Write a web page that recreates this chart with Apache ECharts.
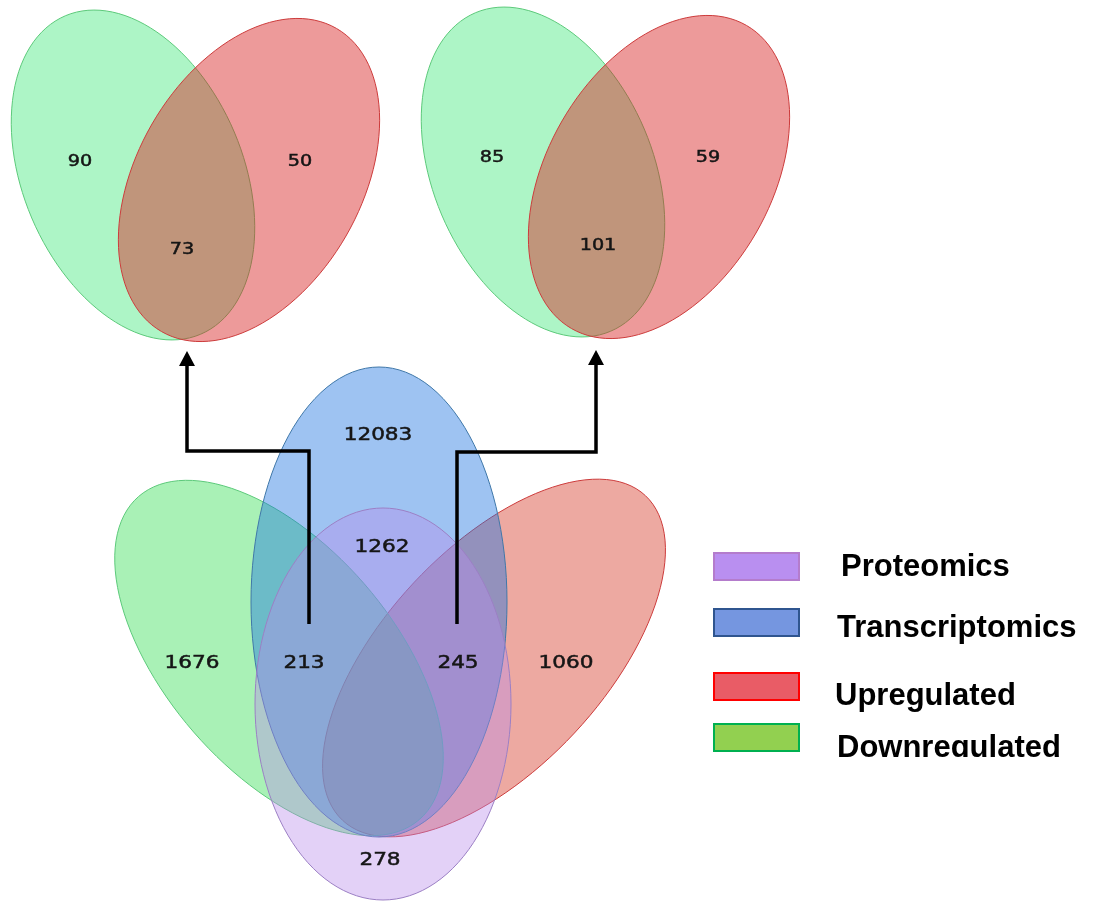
<!DOCTYPE html>
<html>
<head>
<meta charset="utf-8">
<title>Venn diagrams</title>
<script src="https://cdn.jsdelivr.net/npm/echarts@6.0.0/dist/echarts.min.js"></script>
<style>
  html, body { margin: 0; padding: 0; background: #fff; }
  #chart { width: 1095px; height: 903px; }
</style>
</head>
<body>
<div id="chart"></div>
<script>
// ---- data ----
const setNames = ['Proteomics', 'Transcriptomics', 'Upregulated', 'Downregulated']
// top left venn: down only, both, up only
const leftPairCounts = [90, 73, 50]
// top right venn: down only, both, up only
const rightPairCounts = [85, 101, 59]
// bottom venn regions
const quadCounts = [12083, 1262, 1676, 213, 245, 1060, 278]

// ---- layout (pixel space of the hidden axes) ----
// ellipse: [cx, cy, semiMinor, semiMajor, tilt deg (+ = top leans left)]
const downPairEllipses = [[133, 175, 110, 173, 23], [543, 172, 110, 173, 23]]
const upPairEllipses = [[249, 180, 112, 175, -30], [659, 177, 112, 175, -30]]
const downQuadEllipse = [[279, 658, 113, 214, 41]]
const upQuadEllipse = [[494, 658, 110, 222, -43]]
const transEllipse = [[379, 602, 128, 235, 0]]
const protEllipse = [[383, 704, 128, 196, 0]]

const leftPairPos = [[80, 162], [182, 250], [300, 162]]
const rightPairPos = [[492, 158], [598, 246], [708, 158]]
const quadPos = [[378, 435], [382, 547], [192, 663], [304, 663], [458, 663], [566, 663], [380, 860]]

const arrowPaths = [
  [[309, 624], [309, 451], [187, 451], [187, 366]],
  [[457, 624], [457, 452], [596, 452], [596, 365]]
]

const strokes = {
  Downregulated: '#5cc97a',
  Upregulated: '#cc3b3b',
  Transcriptomics: '#3f77a8',
  Proteomics: '#9b7fc4'
}
const legendColors = {
  Proteomics: ['#b98ff0', '#b47ccc'],
  Transcriptomics: ['#7596e0', '#2f558f'],
  Upregulated: ['#e95c66', '#ff0000'],
  Downregulated: ['#92d050', '#00b050']
}
const legendTops = [550, 601.5, 661.5, 711]
const legendTextLeft = [37, 33, 31, 33]
// text sits a little lower than its swatch: an empty first line pushes it down
const legendLead = [2, 11, 19, 22]

let chart = echarts.init(document.getElementById('chart'))

function ellipseSeries (name, list, fill) {
  return {
    name: name,
    type: 'custom',
    coordinateSystem: 'cartesian2d',
    silent: true,
    data: list,
    renderItem: function (params, api) {
      let cx = api.value(0)
      let cy = api.value(1)
      let b = api.value(2)
      let a = api.value(3)
      let t = api.value(4) * Math.PI / 180
      let pts = []
      for (let k = 0; k < 120; k++) {
        let u = k / 120 * 2 * Math.PI
        let x0 = b * Math.cos(u)
        let y0 = a * Math.sin(u)
        pts.push(api.coord([cx + x0 * Math.cos(t) + y0 * Math.sin(t), cy - x0 * Math.sin(t) + y0 * Math.cos(t)]))
      }
      return {
        type: 'polygon',
        shape: { points: pts },
        style: { fill: fill, stroke: strokes[name], lineWidth: 1 }
      }
    }
  }
}

// count labels
let labelData = []
leftPairCounts.forEach((v, i) => labelData.push([leftPairPos[i][0], leftPairPos[i][1], v, 16]))
rightPairCounts.forEach((v, i) => labelData.push([rightPairPos[i][0], rightPairPos[i][1], v, 16]))
quadCounts.forEach((v, i) => labelData.push([quadPos[i][0], quadPos[i][1], v, 18]))

const option = {
  animation: false,
  grid: { left: 0, right: 0, top: 0, bottom: 0 },
  xAxis: { type: 'value', min: 0, max: 1095, show: false },
  yAxis: { type: 'value', min: 0, max: 903, inverse: true, show: false },
  legend: setNames.map((name, i) => ({
    data: [{ name: name, icon: 'rect', itemStyle: { color: legendColors[name][0], borderColor: legendColors[name][1], borderWidth: 2 } }],
    left: 713,
    top: legendTops[i],
    padding: 0,
    itemWidth: 85,
    itemHeight: 27,
    selectedMode: false,
    formatter: n => '\n' + n,
    textStyle: {
      fontFamily: 'Liberation Sans, Arial, sans-serif',
      fontWeight: 'bold',
      fontSize: 31,
      lineHeight: legendLead[i],
      color: '#000',
      padding: [0, 0, 0, legendTextLeft[i]]
    }
  })),
  graphic: [
    // the source legend image is cut just under the last line
    { type: 'rect', shape: { x: 825, y: 757, width: 270, height: 30 }, style: { fill: '#fff' }, z: 100 }
  ],
  series: [
    ellipseSeries('Downregulated', downPairEllipses, 'rgba(60,230,120,0.42)'),
    ellipseSeries('Upregulated', upPairEllipses, 'rgba(215,30,30,0.45)'),
    ellipseSeries('Upregulated', upQuadEllipse, 'rgba(212,50,30,0.42)'),
    ellipseSeries('Downregulated', downQuadEllipse, 'rgba(50,222,80,0.42)'),
    ellipseSeries('Transcriptomics', transEllipse, 'rgba(30,115,225,0.43)'),
    ellipseSeries('Proteomics', protEllipse, 'rgba(185,140,235,0.40)'),
    {
      name: 'counts',
      type: 'custom',
      coordinateSystem: 'cartesian2d',
      silent: true,
      data: labelData,
      renderItem: function (params, api) {
        let p = api.coord([api.value(0), api.value(1)])
        return {
          type: 'text',
          x: p[0],
          y: p[1],
          scaleX: 1.2,
          style: {
            text: String(api.value(2)),
            x: 0,
            y: 0,
            align: 'center',
            verticalAlign: 'middle',
            font: api.value(3) + 'px "DejaVu Sans", sans-serif',
            fill: '#151515',
            stroke: '#151515',
            lineWidth: 0.5
          }
        }
      }
    },
    {
      name: 'arrows',
      type: 'custom',
      coordinateSystem: 'cartesian2d',
      silent: true,
      data: arrowPaths.map((p, i) => [p[0][0], p[0][1], i]),
      renderItem: function (params, api) {
        let path = arrowPaths[params.dataIndex]
        let pts = path.map(p => api.coord(p))
        let end = path[path.length - 1]
        let tip = api.coord([end[0], end[1] - 15])
        let l = api.coord([end[0] - 8, end[1]])
        let r = api.coord([end[0] + 8, end[1]])
        return {
          type: 'group',
          children: [
            { type: 'polyline', shape: { points: pts }, style: { stroke: '#000', lineWidth: 3.5, fill: null } },
            { type: 'polygon', shape: { points: [tip, l, r] }, style: { fill: '#000' } }
          ]
        }
      }
    }
  ]
}

chart.setOption(option)
</script>
</body>
</html>
